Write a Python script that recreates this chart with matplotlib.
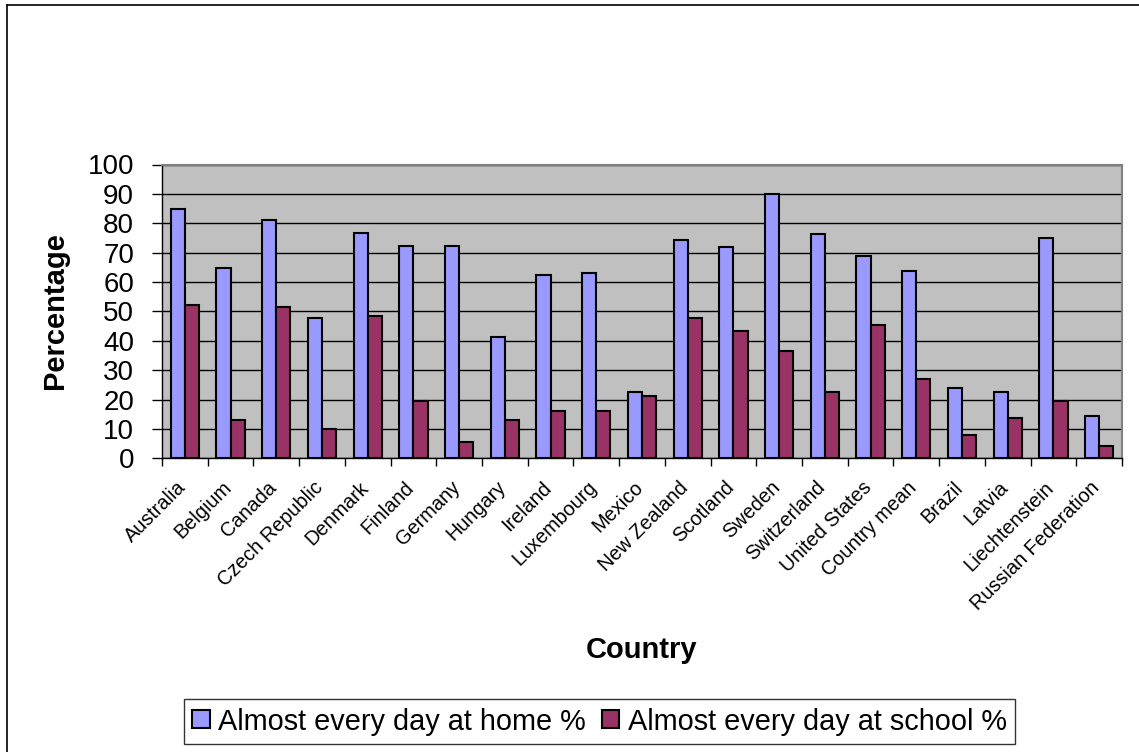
import numpy as np
import matplotlib
matplotlib.use("Agg")
import matplotlib.pyplot as plt
import matplotlib.transforms as mtrans
from matplotlib.lines import Line2D

plt.rcParams['font.family'] = ['Liberation Sans', 'DejaVu Sans']

# data
countries = ['Australia', 'Belgium', 'Canada', 'Czech Republic', 'Denmark', 'Finland',
             'Germany', 'Hungary', 'Ireland', 'Luxembourg', 'Mexico', 'New Zealand',
             'Scotland', 'Sweden', 'Switzerland', 'United States', 'Country mean',
             'Brazil', 'Latvia', 'Liechtenstein', 'Russian Federation']
home = [85.0, 64.8, 81.2, 47.8, 76.8, 72.4, 72.4, 41.4, 62.3, 62.9, 22.7,
        74.3, 71.8, 90.1, 76.3, 68.7, 63.6, 23.8, 22.6, 74.9, 14.4]
school = [52.3, 13.1, 51.6, 10.0, 48.5, 19.4, 5.6, 13.1, 16.2, 16.2, 21.3,
          47.8, 43.4, 36.4, 22.6, 45.3, 27.0, 8.1, 13.8, 19.4, 4.3]
yticks = list(range(0, 101, 10))

W, H = 1139, 752
fig = plt.figure(figsize=(W / 100, H / 100), dpi=100)

# outer chart border (left and top visible)
fig.add_artist(Line2D([7 / W, 7 / W], [0, 1 - 5 / H], color='black', lw=1.2))
fig.add_artist(Line2D([7 / W, 1], [1 - 5 / H, 1 - 5 / H], color='black', lw=1.2))

ax = fig.add_axes([162 / W, 1 - 458.3 / H, (1122 - 162) / W, (458.3 - 164.5) / H])
ax.set_facecolor('#C0C0C0')

x = np.arange(len(countries))
bw = 0.31
ax.bar(x - bw / 2, home, bw, color='#9999FF', edgecolor='black', lw=1.5,
       label='Almost every day at home %', zorder=3)
ax.bar(x + bw / 2, school, bw, color='#993366', edgecolor='black', lw=1.5,
       label='Almost every day at school %', zorder=3)

ax.set_xlim(-0.5, len(countries) - 0.5)
ax.set_ylim(0, 100)
ax.set_yticks(yticks)
ax.tick_params(axis='y', labelsize=20, length=7, width=1, direction='out', pad=13)
ax.yaxis.grid(True, color='black', lw=1, zorder=1)
ax.set_axisbelow(True)

ax.set_xticks(x)
ax.set_xticklabels(countries, rotation=45, ha='right', rotation_mode='anchor', fontsize=14.3)
ax.tick_params(axis='x', which='major', length=0, pad=14)
ax.set_xticks(np.arange(-0.5, len(countries)), minor=True)
ax.tick_params(axis='x', which='minor', length=6, width=1, direction='out')
shift = mtrans.ScaledTranslation(-9 / 100, 0, fig.dpi_scale_trans)
for lab in ax.get_xticklabels():
    lab.set_transform(lab.get_transform() + shift)

for s in ['top', 'right']:
    ax.spines[s].set_color('#808080')
    ax.spines[s].set_linewidth(1.5)
for s in ['left', 'bottom']:
    ax.spines[s].set_color('black')
    ax.spines[s].set_linewidth(1)

fig.text(55 / W, 1 - 311 / H, 'Percentage', rotation=90, ha='center', va='center',
         fontsize=21, fontweight='bold')
fig.text(642 / W, 1 - 650 / H, 'Country', ha='center', va='center',
         fontsize=21, fontweight='bold')

leg = fig.legend(loc='center', bbox_to_anchor=(599.5 / W, 1 - 721.5 / H), ncol=2,
                 fontsize=20.8, frameon=True, fancybox=False, edgecolor='black',
                 handlelength=0.6, handleheight=0.6, handletextpad=0.3,
                 columnspacing=0.55, borderpad=0.3, borderaxespad=0)
leg.get_frame().set_linewidth(1)

fig.savefig('out.png', dpi=100, facecolor='white')
